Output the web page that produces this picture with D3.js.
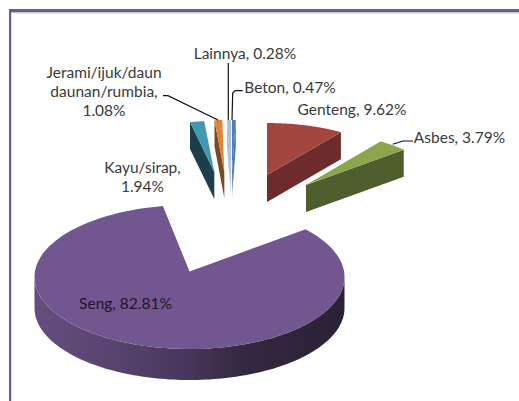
<!DOCTYPE html>
<html><head><meta charset="utf-8">
<script src="https://cdn.jsdelivr.net/npm/d3@7"></script>
<style>html,body{margin:0;padding:0;background:#fff}svg{display:block}</style>
</head><body><svg id="c" width="519" height="401"></svg>
<script>
// --- data, in the chart's clockwise order from 12 o'clock
const categories = ["Beton","Genteng","Asbes","Seng","Kayu/sirap","Jerami/ijuk/daun daunan/rumbia","Lainnya"];
const shares     = [0.47, 9.62, 3.79, 82.81, 1.94, 1.08, 0.28];
const surface    = ["#4f7fb8","#a5453f","#8ca64e","#715690","#4198b0","#dd853a","#a9c0de"];
const wall       = ["url(#fadeBeton)","#6e2b2b","#4e5e2c","url(#sengWall)","#1c3f4b","#7a4a20","url(#fadeLain)"];

// --- layout (explosion and perspective of each slice)
const origin  = [189.5, 277];
const explode = [[42.5,-105],[77.5,-102],[116.5,-92],[0,-5.5],[24.8,-105],[34.8,-105],[41.5,-105]];
const radiusX = [130,130,131,155,118,115,230];
const radiusY = [52,52,53,72,51,52,52];
const depth   = [26,27,27,31,27,26,26];
const arcLift = [0,0,0,5.5,0,0,0];
const turn    = [[0,0],[-1.7,-1.7],[-1.7,-1.7],[-1.5,2],[0,0],[0,0],[0,0]];

const labels = [
  {lines:["Beton, 0.47%"], x:290, y:88, fill:"#3a3a3a"},
  {lines:["Genteng, 9.62%"], x:352, y:110, fill:"#3a3a3a"},
  {lines:["Asbes, 3.79%"], x:459.5, y:138, fill:"#3a3a3a"},
  {lines:["Seng, 82.81%"], x:125.5, y:304, fill:"#1c1626"},
  {lines:["Kayu/sirap,","1.94%"], x:142.5, y:168, fill:"#3a3a3a"},
  {lines:["Jerami/ijuk/daun","daunan/rumbia,","1.08%"], x:104, y:73, fill:"#3a3a3a"},
  {lines:["Lainnya, 0.28%"], x:245, y:54, fill:"#3a3a3a"}
];
const leaders = [
  [[242.7,90.7],[235,90.7],[232.7,93],[232,120]],
  [[392.7,144.3],[403,141],[413,141]],
  [[163,95.7],[168,95.7],[218,120]],
  [[228.3,63],[228.3,120]]
];

const svg = d3.select("#c");
const defs = svg.append("defs");
function grad(id, x1,y1,x2,y2, stops){
  const g = defs.append("linearGradient").attr("id",id)
    .attr("gradientUnits","objectBoundingBox")
    .attr("x1",x1).attr("y1",y1).attr("x2",x2).attr("y2",y2);
  stops.forEach(s=>g.append("stop").attr("offset",s[0]).attr("stop-color",s[1]));
}
grad("sengWall",0,0,1,0,[[0,"#644e80"],[0.25,"#58446f"],[0.5,"#46365a"],[0.68,"#33283f"],[1,"#2b2137"]]);
grad("fadeBeton",0,0,0,1,[[0,"#3f6a9f"],[0.7,"#4f7fb8"],[1,"#b9cbe2"]]);
grad("fadeLain",0,0,0,1,[[0,"#9fb6d6"],[0.65,"#b3c6e0"],[1,"#e4eaf4"]]);

// frame
svg.append("rect").attr("x",9).attr("y",12).attr("width",510).attr("height",1.3).attr("fill","#c4c2c8");
svg.append("rect").attr("x",9).attr("y",9).attr("width",510).attr("height",3).attr("fill","#6c5a98");
svg.append("rect").attr("x",9).attr("y",9).attr("width",2.2).attr("height",392).attr("fill","#6c5a98");

const pie = d3.pie().sort(null).value(d=>d).startAngle(0).endAngle(2*Math.PI);
const arcs = pie(shares);
const line = d3.line();
const sliceG = svg.append("g");

arcs.forEach((a,i)=>{
  const tip = [origin[0]+explode[i][0], origin[1]+explode[i][1]];
  const a0 = a.startAngle + turn[i][0]*Math.PI/180;
  const a1 = a.endAngle + turn[i][1]*Math.PI/180;
  const rim = t => [tip[0]+radiusX[i]*Math.sin(t), tip[1]+arcLift[i]-radiusY[i]*Math.cos(t)];
  const down = p => [p[0], p[1]+depth[i]];
  const sweep = (s,e) => d3.range(0,121).map(k=>s+(e-s)*k/120);
  const mid = (a0+a1)/2;
  let w;
  if (mid < Math.PI/2) {
    const p = rim(a1); w = [tip,p,down(p),down(tip)];
  } else if (mid > 3*Math.PI/2) {
    const p = rim(a0); w = [tip,p,down(p),down(tip)];
  } else {
    const rimPts = sweep(Math.max(a0,Math.PI/2),Math.min(a1,3*Math.PI/2)).map(rim);
    w = rimPts.concat(rimPts.slice().reverse().map(down));
  }
  sliceG.append("path").attr("d",line(w)+"Z").attr("fill",wall[i]);
  const top = [tip].concat(sweep(a0,a1).map(rim));
  sliceG.append("path").attr("d",line(top)+"Z").attr("fill",surface[i]);
});

// leader lines
svg.append("g").selectAll("path").data(leaders).join("path")
  .attr("d",d=>line(d)).attr("fill","none").attr("stroke","#111").attr("stroke-width",1.2);

// labels
const tg = svg.append("g").attr("font-family","Lato, 'Open Sans', sans-serif").attr("font-size",15.5)
  .attr("text-anchor","middle");
labels.forEach(l=>{
  l.lines.forEach((s,k)=>{
    tg.append("text").attr("x",l.x).attr("y",l.y+k*18.7).attr("dy","0.35em").attr("fill",l.fill).text(s);
  });
});
</script></body></html>
